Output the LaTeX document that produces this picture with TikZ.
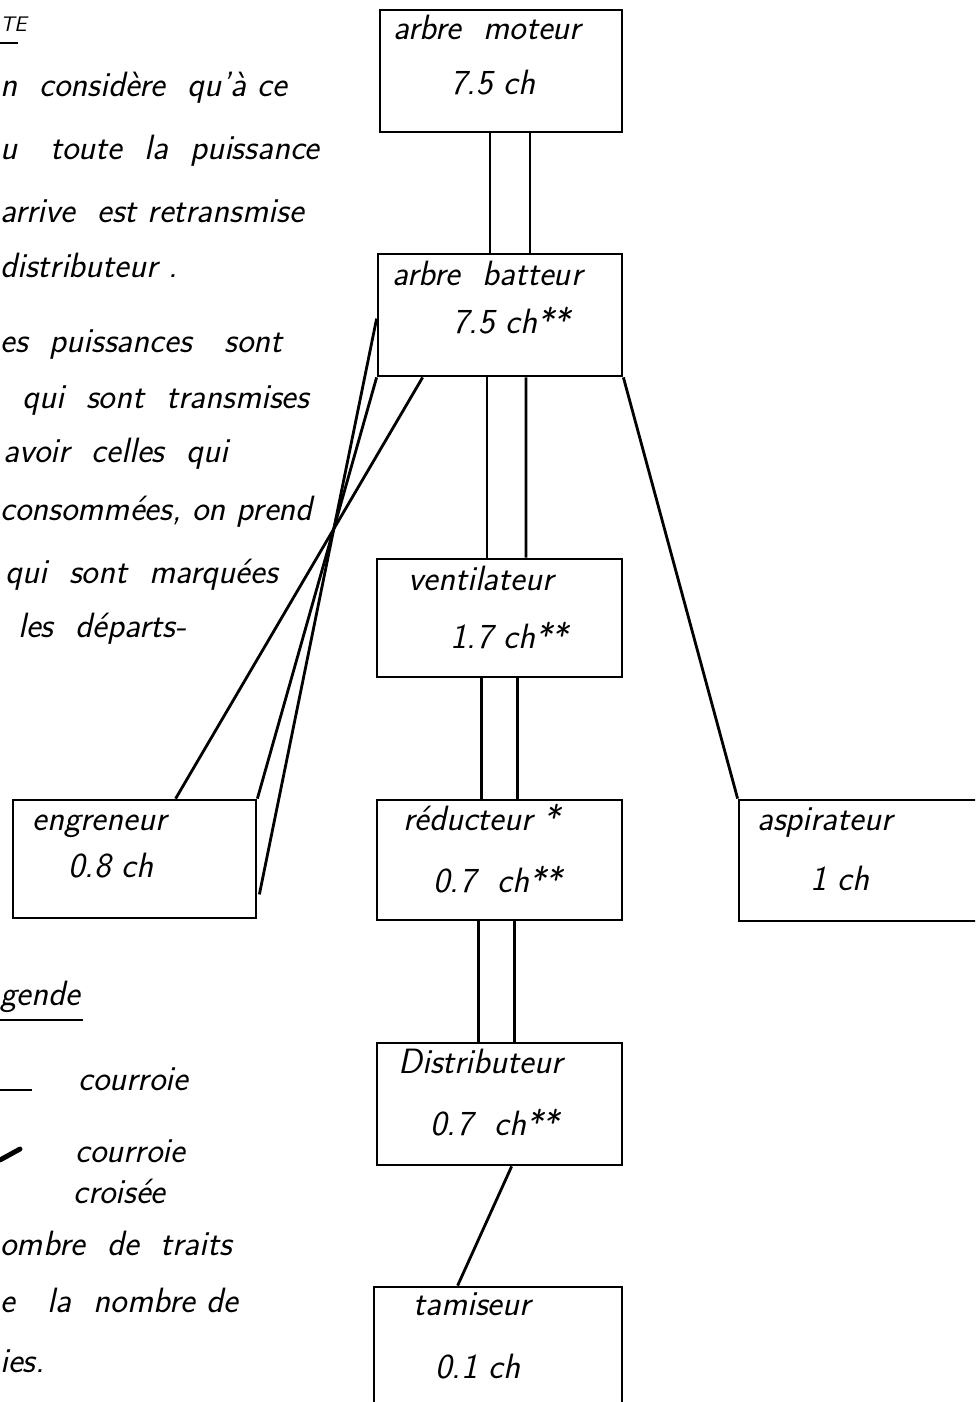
\documentclass[tikz,border=0pt]{standalone}
\usepackage{fontspec}
\usetikzlibrary{calc}
\newcommand\hand{\fontsize{20}{23}\selectfont\sffamily\itshape}

\begin{document}
\begin{tikzpicture}[x=0.02cm,y=-0.02cm,
    box/.style={draw,line width=1.6pt,inner sep=0pt},
    txt/.style={anchor=base west,inner sep=0pt,font=\hand},
    belt/.style={line width=1.6pt}]
        \useasboundingbox (0,0) rectangle (975,1402);
        \clip (0,0) rectangle (975,1402);

        % boites
        \node [box,minimum width=4.84cm,minimum height=2.44cm] (mot) at (501,71) {};
        \node [box,minimum width=4.88cm,minimum height=2.44cm] (bat) at (500,315) {};
        \node [box,minimum width=4.9cm,minimum height=2.36cm] (ven) at (499.5,618) {};
        \node [box,minimum width=4.9cm,minimum height=2.4cm] (red) at (499.5,860) {};
        \node [box,minimum width=4.9cm,minimum height=2.44cm] (dis) at (499.5,1104) {};
        \node [box,minimum width=4.96cm,minimum height=2.66cm] (tam) at (498,1353.5) {};
        \node [box,minimum width=4.86cm,minimum height=2.36cm] (eng) at (134.5,859) {};
        \node [box,minimum width=5.22cm,minimum height=2.42cm] (asp) at (869.5,860.5) {};

        \node [txt] (motA) at (393,40) {arbre\ \ moteur};
        \node [txt] (motB) at (450,95) {7.5 ch};
        \node [txt] (batA) at (392,285) {arbre\ \ batteur};
        \node [txt] (batB) at (452,333) {7.5 ch**};
        \node [txt] (venA) at (408,590) {ventilateur};
        \node [txt] (venB) at (450,648) {1.7 ch**};
        \node [txt] (redA) at (403,830) {réducteur *};
        \node [txt] (redB) at (433,892) {0.7\ \ ch**};
        \node [txt] (disA) at (398,1073) {Distributeur};
        \node [txt] (disB) at (430,1135) {0.7\ \ ch**};
        \node [txt] (tamA) at (413,1315) {tamiseur};
        \node [txt] (tamB) at (435,1378) {0.1\ ch};
        \node [txt] (engA) at (32,830) {engreneur};
        \node [txt] (engB) at (68,877) {0.8 ch};
        \node [txt] (aspA) at (757,830) {aspirateur};
        \node [txt] (aspB) at (810,890) {1\ ch};

        % courroies
        \foreach \dx in {-11,29}
            \draw [belt] ($(mot.south)+(\dx,0)$) -- ($(bat.north)+(\dx+1,0)$);
        \foreach \dx in {-13,26}
            \draw [belt] ($(bat.south)+(\dx,0)$) -- ($(ven.north)+(\dx+0.5,0)$);
        \foreach \dx in {-18,18}
            \draw [belt] ($(ven.south)+(\dx,0)$) -- ($(red.north)+(\dx,0)$);
        \foreach \dx in {-21,15}
            \draw [belt] ($(red.south)+(\dx,0)$) -- ($(dis.north)+(\dx,0)$);
        \draw [belt] ($(dis.south west)+(136,0)$) -- ($(tam.north west)+(85,0)$);
        \draw [belt] (bat.south east) -- (asp.north west);
        \draw [belt] ($(bat.north west)+(0,66)$) -- ($(eng.south east)+(2,-25)$);
        \draw [belt] (bat.south west) -- (eng.north east);
        \draw [belt] ($(bat.south west)+(46,0)$) -- ($(eng.north west)+(164,0)$);

        % note
        \node [txt,font=\fontsize{12}{14}\selectfont\sffamily\itshape] (n0) at (0,32) {TE};
        \draw [line width=1.6pt] (0,43) -- (18,43);
        \node [txt] (n1) at (0,97) {n\ \ considère\ \ qu'à\ ce};
        \node [txt] (n2) at (0,160) {u\ \ \ toute\ \ la\ \ puissance};
        \node [txt] (n3) at (0,222) {arrive\ \ est retransmise};
        \node [txt] (n4) at (0,277) {distributeur .};
        \node [txt] (n5) at (0,352) {es\ \ puissances\ \ \ sont};
        \node [txt] (n6) at (22,408) {qui\ \ sont\ \ transmises};
        \node [txt] (n7) at (3,462) {avoir\ \ celles\ \ qui};
        \node [txt] (n8) at (0,520) {consommées, on prend};
        \node [txt] (n9) at (5,583) {qui\ \ sont\ \ marquées};
        \node [txt] (n10) at (18,637) {les\ \ départs-};

        % legende
        \node [txt] (l0) at (0,1005) {gende};
        \draw [line width=1.6pt] (0,1020) -- (83,1020);
        \draw [line width=1.6pt] (0,1090) -- (32,1090);
        \node [txt] (l1) at (78,1090) {courroie};
        \draw [line width=2.8pt,line cap=round] (0,1160) -- (20,1149);
        \node [txt] (l2) at (75,1162) {courroie};
        \node [txt] (l3) at (73,1203) {croisée};
        \node [txt] (l4) at (0,1255) {ombre\ \ de\ \ traits};
        \node [txt] (l5) at (0,1312) {e\ \ \ la\ \ nombre\ de};
        \node [txt] (l6) at (0,1372) {ies.};
\end{tikzpicture}
\end{document}
